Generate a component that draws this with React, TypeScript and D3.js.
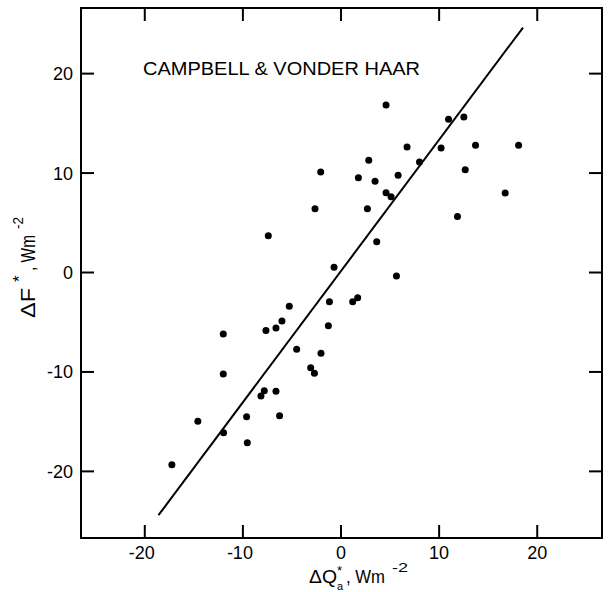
import React from "react";
import * as d3 from "d3";

const xValues = [
  4.59, 10.96, 12.52, 6.73, 10.2, 13.71, 18.1, 2.83, 8.0, -2.07, 12.66, 1.77, 3.47, 5.82, 4.59, 5.1, 16.73,
  -2.65, 2.69, 11.87, -7.41, 3.64, -0.71, 5.65, -1.18, 1.19, 1.7, -5.27, -6.02, -6.63, -7.65, -12.0, -1.29,
  -4.52, -2.04, -3.09, -2.71, -12.0, -7.82, -8.16, -6.63, -9.62, -6.26, -14.59, -11.97, -9.55, -17.24,
];
const yValues = [
  16.85, 15.41, 15.64, 12.63, 12.53, 12.8, 12.8, 11.29, 11.12, 10.11, 10.34, 9.54, 9.17, 9.78, 8.03, 7.63, 8.0,
  6.42, 6.42, 5.62, 3.7, 3.1, 0.52, -0.35, -2.94, -2.94, -2.53, -3.4, -4.88, -5.58, -5.82, -6.19, -5.35,
  -7.73, -8.13, -9.58, -10.14, -10.21, -11.89, -12.42, -11.95, -14.5, -14.4, -14.97, -16.11, -17.12, -19.33,
];
const fitX = [-18.6, 18.55];
const fitSlope = 1.32;
const fitIntercept = 0.15;
const xTicks = [-20, -10, 0, 10, 20];
const yTicks = [-20, -10, 0, 10, 20];
const title = "CAMPBELL & VONDER HAAR";

const W = 612;
const H = 592;
const left = 81;
const right = 602;
const top = 8;
const bottom = 538;

export default function App() {
  const x = d3.scaleLinear().domain([-26.5, 26.6]).range([left, right]);
  const y = d3.scaleLinear().domain([-26.7, 26.6]).range([bottom, top]);
  const line = d3
    .line<number>()
    .x((d) => x(d))
    .y((d) => y(fitSlope * d + fitIntercept));
  const font = "'Liberation Sans', Arial, sans-serif";
  const tl = 13;
  const fmt = (v: number) => (v < 0 ? "-" + Math.abs(v) : String(v));
  return (
    <svg width={W} height={H} style={{ position: "absolute", left: 0, top: 0, background: "#fff" }}>
      <rect x={left} y={top} width={right - left} height={bottom - top} fill="none" stroke="#000" strokeWidth={2} />
      {xTicks.map((t) => (
        <g key={"x" + t}>
          <line x1={x(t)} x2={x(t)} y1={bottom} y2={bottom - tl} stroke="#000" strokeWidth={2} />
          <line x1={x(t)} x2={x(t)} y1={top} y2={top + tl} stroke="#000" strokeWidth={2} />
          <text x={x(t) - (t < 0 ? 3 : 0)} y={558.5} fontSize={18} fontFamily={font} textAnchor="middle">
            {fmt(t)}
          </text>
        </g>
      ))}
      {yTicks.map((t) => (
        <g key={"y" + t}>
          <line x1={left} x2={left + tl} y1={y(t)} y2={y(t)} stroke="#000" strokeWidth={2} />
          <line x1={right} x2={right - tl} y1={y(t)} y2={y(t)} stroke="#000" strokeWidth={2} />
          <text x={73} y={y(t) + 6.5} fontSize={18} fontFamily={font} textAnchor="end">
            {fmt(t)}
          </text>
        </g>
      ))}
      <path d={line(fitX) || ""} fill="none" stroke="#000" strokeWidth={2} />
      {xValues.map((v, i) => (
        <circle key={i} cx={x(v)} cy={y(yValues[i])} r={3.5} fill="#000" />
      ))}
      <text x={143} y={75} fontSize={19} fontFamily={font} textLength={277} lengthAdjust="spacingAndGlyphs">
        {title}
      </text>
      <g fontFamily={font}>
        <text x={309} y={583} fontSize={19} textLength={28} lengthAdjust="spacingAndGlyphs">ΔQ</text>
        <text x={337} y={575} fontSize={13}>*</text>
        <text x={337} y={590} fontSize={11}>a</text>
        <text x={346} y={583} fontSize={19} textLength={39} lengthAdjust="spacingAndGlyphs">, Wm</text>
        <text x={392} y={572} fontSize={13} textLength={16} lengthAdjust="spacingAndGlyphs">-2</text>
      </g>
      <g transform="translate(35,318) rotate(-90)" fontFamily={font}>
        <text x={0} y={0} fontSize={21} textLength={30} lengthAdjust="spacingAndGlyphs">ΔF</text>
        <text x={36} y={-10} fontSize={17}>*</text>
        <text x={47} y={0} fontSize={21} textLength={36} lengthAdjust="spacingAndGlyphs">, Wm</text>
        <text x={89} y={-12} fontSize={14} textLength={12} lengthAdjust="spacingAndGlyphs">-2</text>
      </g>
    </svg>
  );
}
